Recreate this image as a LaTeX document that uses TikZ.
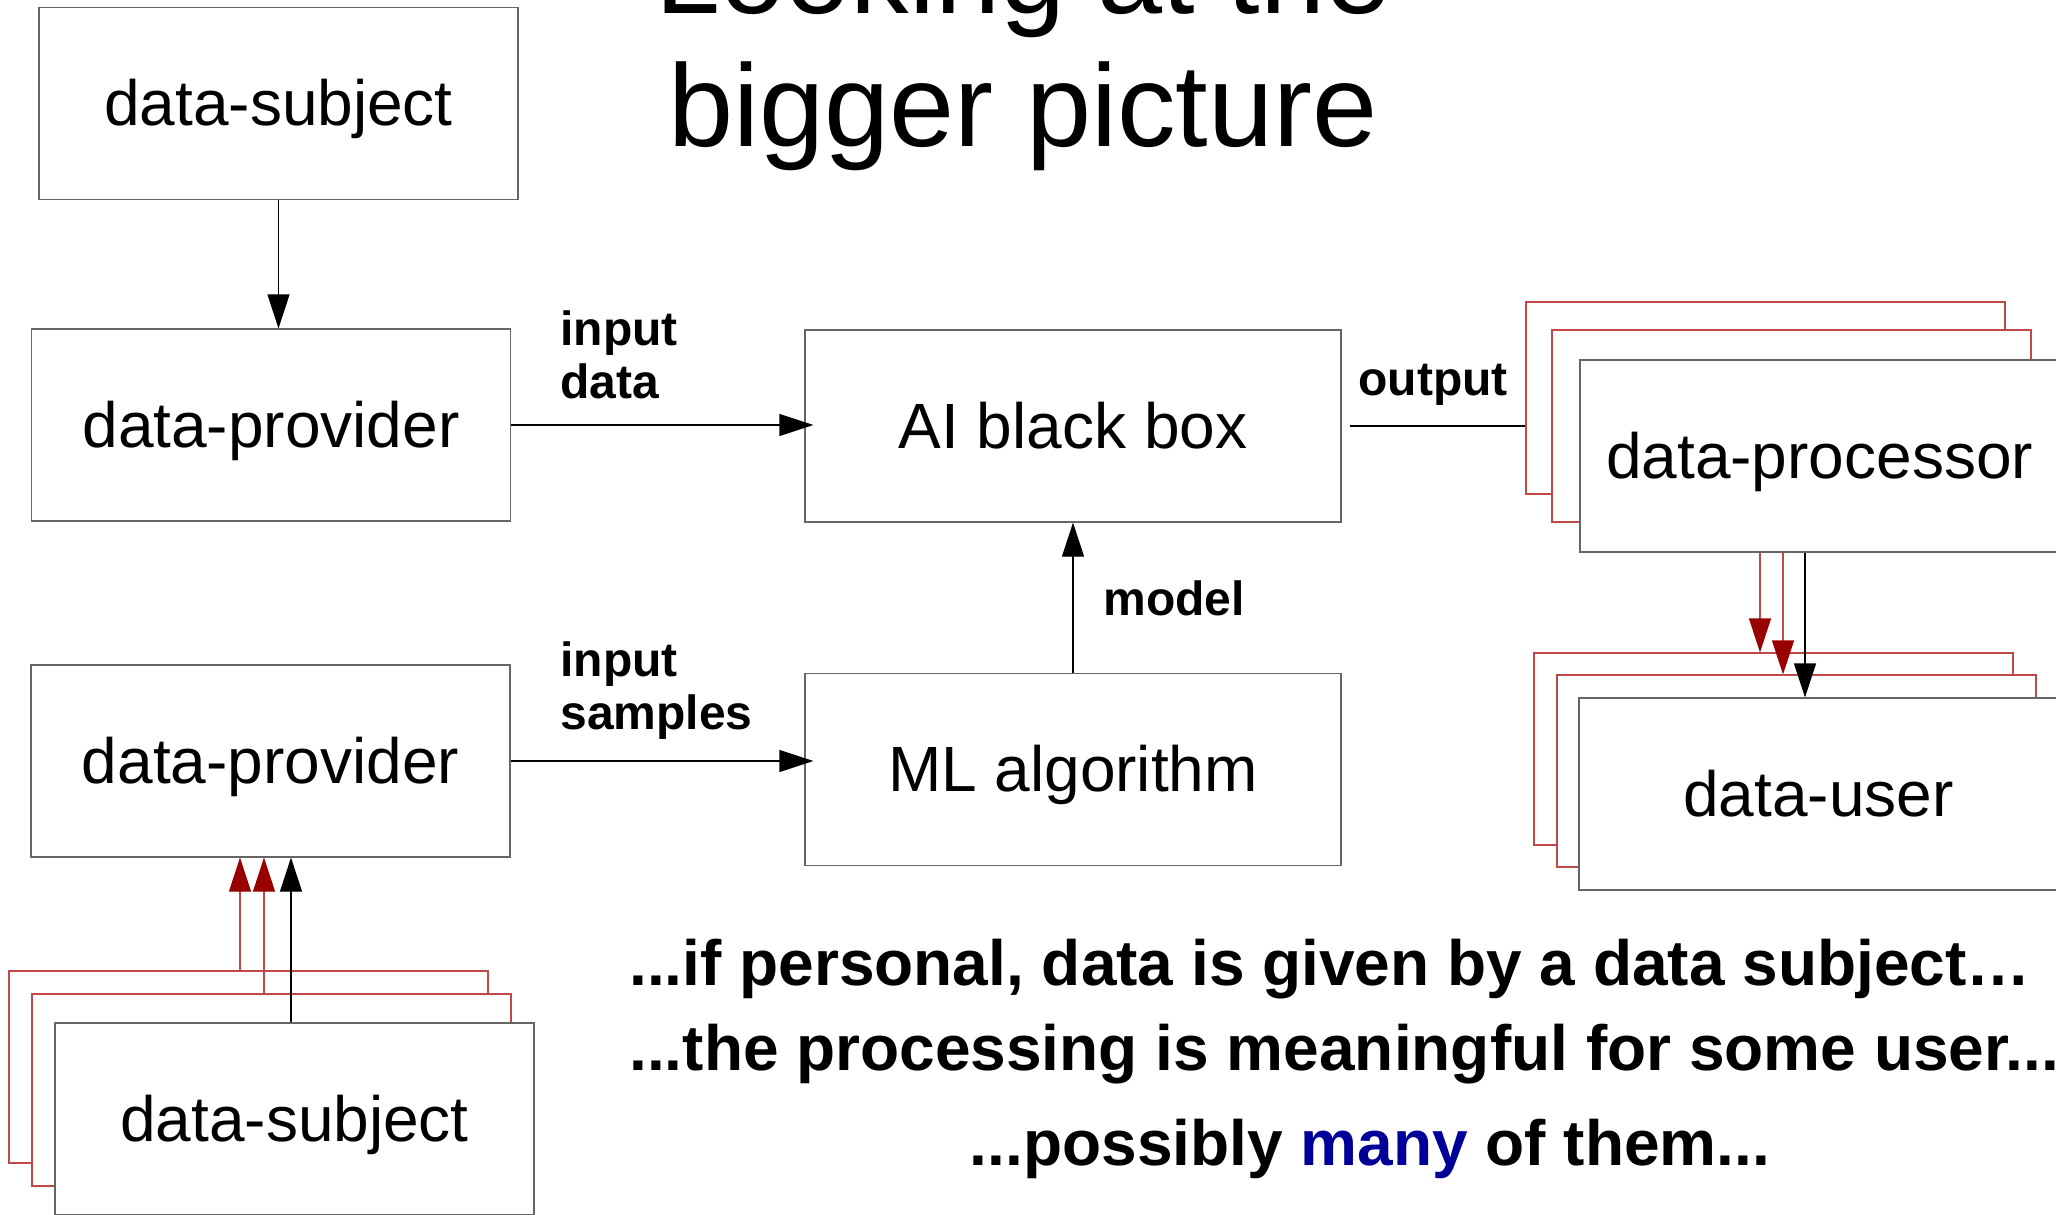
\documentclass[tikz,border=0pt]{standalone}
\usepackage{fontspec}
\setmainfont{Liberation Sans}
\usetikzlibrary{arrows.meta}

\definecolor{boxgray}{HTML}{666666}
\definecolor{stackred}{HTML}{C04848}
\definecolor{tipred}{HTML}{990000}
\definecolor{manyblue}{HTML}{000099}

\tikzset{
  box/.style={draw=boxgray, fill=white, line width=0.6pt, minimum width=239.5pt,
    minimum height=96pt, inner sep=0pt, text height=29pt, text depth=6.8pt,
    font=\fontsize{32}{38}\selectfont},
  wide/.style={box, minimum width=268pt},
  ghost/.style={box, draw=stackred},
  title/.style={font=\fontsize{58.5}{67}\selectfont, inner sep=0pt},
  lbl/.style={font=\bfseries\fontsize{24}{26.5}\selectfont, align=left, inner sep=0pt},
  note/.style={font=\bfseries\fontsize{32}{38}\selectfont, inner sep=0pt},
  arr/.style={line width=0.6pt, -{Triangle[length=17pt,width=11pt]}},
  redarr/.style={line width=0.6pt, stackred, -{Triangle[length=17pt,width=11pt,color=tipred]}},
}

\begin{document}
\begin{tikzpicture}[x=0.5pt, y=-0.5pt]
  \useasboundingbox (0,0) rectangle (2056,1215);
  \clip (0,0) rectangle (2056,1215);
  % title (first line runs off the top of the slide)
  \node[title, anchor=base] (titleA) at (1023,13) {Looking at the};
  \node[title, anchor=base] (titleB) at (1023,146) {bigger picture};

  % left column
  \node[box] (subjTop) at (278.5,103.5) {data-subject};
  \node[box] (provA) at (271,425) {data-provider};
  \node[box] (provB) at (270.5,761) {data-provider};
  \node[ghost] (subjA) at (248.5,1067) {};
  \node[ghost] (subjB) at (271.5,1090) {};
  \node[box] (subjC) at (294.5,1119) {data-subject};

  % middle
  \node[wide] (aibox) at (1073,426) {AI black box};
  \node[wide] (mlalg) at (1073,769.5) {ML algorithm};

  % right column
  \node[ghost] (procA) at (1765.5,398) {};
  \node[ghost] (procB) at (1791.5,426) {};
  \node[box] (procC) at (1819.5,456) {data-processor};
  \node[ghost] (userA) at (1773.5,749) {};
  \node[ghost] (userB) at (1796.5,771) {};
  \node[box] (userC) at (1818.5,794) {data-user};

  % connectors
  \draw[arr] (subjTop.south) -- (subjTop.south |- provA.north);
  \draw[arr] (provA.east) -- ([shift={(9,0)}]provA.east -| aibox.west);
  \draw[arr] (provB.east) -- ([shift={(9,0)}]provB.east -| mlalg.west);
  \draw[arr] (mlalg.north) -- (aibox.south);
  \draw[line width=0.6pt] ([shift={(8,0)}]aibox.east) -- (aibox.east -| procA.west);
  \draw[redarr] ([shift={(-59.5,0)}]procC.south) -- ([shift={(-59.5,0)}]procC.south |- userA.north);
  \draw[redarr] ([shift={(-36.5,0)}]procC.south) -- ([shift={(-36.5,0)}]procC.south |- userB.north);
  \draw[arr] ([shift={(-14.5,0)}]procC.south) -- ([shift={(-14.5,0)}]procC.south |- userC.north);
  \draw[redarr] ([shift={(-30.5,0)}]provB.south |- subjA.north) -- ([shift={(-30.5,0)}]provB.south);
  \draw[redarr] ([shift={(-6.5,0)}]provB.south |- subjB.north) -- ([shift={(-6.5,0)}]provB.south);
  \draw[arr] ([shift={(20.5,0)}]provB.south |- subjC.north) -- ([shift={(20.5,0)}]provB.south);

  % connector labels
  \node[lbl, anchor=base west] (lblInData) at (560,398) {input\\data};
  \node[lbl, anchor=base west] (lblInSamples) at (560,729) {input\\samples};
  \node[lbl, anchor=base west] (lblModel) at (1103,615) {model};
  \node[lbl, anchor=base west] (lblOutput) at (1358,395) {output};

  % remarks
  \node[note, anchor=base west] (noteA) at (629,985) {...if personal, data is given by a data subject…};
  \node[note, anchor=base west] (noteB) at (629,1070) {...the processing is meaningful for some user...};
  \node[note, anchor=base] (noteC) at (1370,1165) {...possibly \textcolor{manyblue}{many} of them...};
\end{tikzpicture}
\end{document}
